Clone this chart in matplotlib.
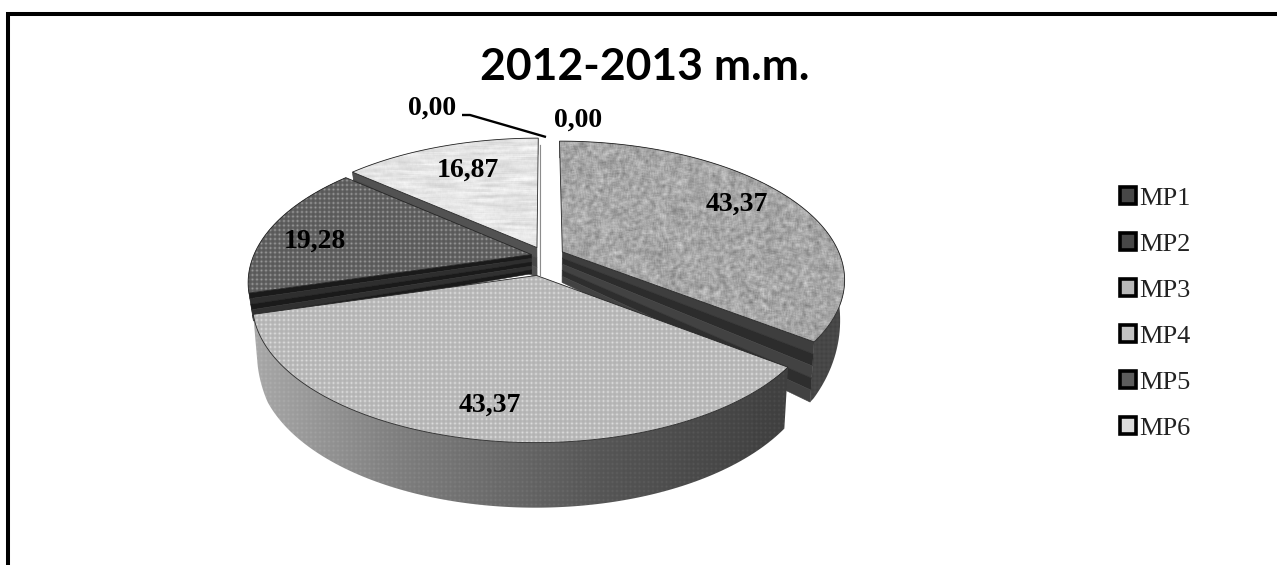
import numpy as np
import matplotlib
matplotlib.use("Agg")
import matplotlib.pyplot as plt
from matplotlib.patches import Patch, Polygon

# Chart content
title = "2012-2013 m.m."
series = ["MP1", "MP2", "MP3", "MP4", "MP5", "MP6"]
values = [0.00, 43.37, 43.37, 19.28, 16.87, 0.00]

W, H = 1277, 565

# Projection of the tilted disc onto the canvas
CX, CY, RX, RY, PERSP = 545.0, 256.0, 278.0, 133.7, 0.194
BASE_SCALE = 0.985
explode = [0.07, 0.07, 0.10, 0.05, 0.07, 0.0]
depth_scale = [1.0, 1.0, 1.0, 0.62, 1.0, 1.0]
label_pos = [(578, 120), (737, 204), (490, 405), (315, 241), (468, 170), (432, 108)]
draw_order = [4, 5, 0, 3, 1, 2]
legend_shades = [0.28, 0.28, 0.72, 0.76, 0.36, 0.86]


def project(u, v, i=None):
    s = 1.0 / (1.0 + PERSP * v)
    x, y = CX + RX * u * s, CY - RY * v * s
    if i == 2:
        # The front slice sits a little narrower and flatter than the others
        x = 520.5 + (x - 523.5) * 0.982
        y = 443.0 - (443.0 - y) * 0.965
    return x, y


def lower(x, y, v, i):
    # Base of the extruded pie: thicker toward the viewer
    t = np.interp(v, [-1.2, -0.55, 0.0, 1.1], [66, 60, 31, 16]) * depth_scale[i]
    return CX + (x - CX) * BASE_SCALE, y + t


def box_blur(a, kx, ky):
    for k, axis in ((kx, 1), (ky, 0)):
        if k > 1:
            a = np.apply_along_axis(lambda r: np.convolve(r, np.ones(k) / k, mode="same"), axis, a)
    return a


yy, xx = np.mgrid[0:H, 0:W].astype(float)


def hash_noise(sx, sy):
    n = np.sin(xx * sx + yy * sy) * 43758.5453
    return n - np.floor(n)


def dots(period):
    return 0.5 + 0.5 * np.cos(2 * np.pi * (xx + yy) / period) * np.cos(2 * np.pi * (xx - yy) / period)


n1 = hash_noise(12.9898, 78.233)
n2 = hash_noise(39.346, 11.135)
granite = box_blur(n1, 4, 4)
granite = 166 + (granite - granite.mean()) * 150
marble = box_blur(n2, 25, 3)
marble = 228 + (marble - marble.mean()) * 190
dot_fine = dots(9.0) ** 3
tex_light = 180 + 40 * dot_fine
tex_dark = 90 + 62 * dot_fine
tex_rim_dark = 66 + 10 * dots(9.0)
rim_ramp = np.interp(xx, [250, 400, 600, 790], [168, 125, 85, 62])
tex_rim_front = rim_ramp + 12 * dot_fine

top_tex = {1: granite, 2: tex_light, 3: tex_dark, 4: marble}
rim_tex = {1: tex_rim_dark, 2: tex_rim_front, 3: tex_rim_dark, 4: np.full_like(xx, 150.0)}
wall_bands = {
    1: [62, 44, 66, 46, 66],
    2: [60, 60],
    3: [26, 46, 26, 48, 26],
    4: [82, 72, 82],
}
# Only the cut faces turned toward the viewer are drawn: (start edge, end edge)
visible_walls = {1: (False, True), 2: (False, False), 3: (True, False), 4: (True, False)}

fig = plt.figure(figsize=(W / 100, H / 100), dpi=100, facecolor="white")
ax = fig.add_axes([0, 0, 1, 1])
z = [2]


def next_z():
    z[0] += 1
    return z[0]


def textured(points, tex, edge=None, lw=0.6):
    poly = Polygon(points, closed=True, fc="none", ec="none", zorder=next_z())
    ax.add_patch(poly)
    im = ax.imshow(np.clip(tex, 0, 255), cmap="gray", vmin=0, vmax=255, extent=(0, W, H, 0),
                   aspect="auto", interpolation="bilinear", zorder=next_z())
    im.set_clip_path(poly)
    if edge is not None:
        ax.add_patch(Polygon(points, closed=True, fc="none", ec=edge, lw=lw, zorder=next_z()))


def draw_wall(au, av, bu, bv, bands, i):
    # Flat cut face running from the exploded apex out to the rim
    ts = np.linspace(0, 1, 2)
    us, vs = au + (bu - au) * ts, av + (bv - av) * ts
    xs, ys = project(us, vs, i)
    xb, yb = lower(xs, ys, vs, i)
    n = len(bands)
    for k, shade in enumerate(bands):
        f0, f1 = k / n, (k + 1) / n
        p = [(xs[0] + (xb[0] - xs[0]) * f0, ys[0] + (yb[0] - ys[0]) * f0),
             (xs[1] + (xb[1] - xs[1]) * f0, ys[1] + (yb[1] - ys[1]) * f0),
             (xs[1] + (xb[1] - xs[1]) * f1, ys[1] + (yb[1] - ys[1]) * f1),
             (xs[0] + (xb[0] - xs[0]) * f1, ys[0] + (yb[0] - ys[0]) * f1)]
        c = str(shade / 255)
        ax.add_patch(Polygon(p, closed=True, fc=c, ec=c, lw=0.4, zorder=next_z()))


# Slice angles run clockwise from twelve o'clock, each in proportion to its value
total = sum(values)
ends = 90.0 - np.cumsum(values) / total * 360.0
starts = np.concatenate(([90.0], ends[:-1]))

for i in draw_order:
    a0, a1 = np.radians(starts[i]), np.radians(ends[i])
    mid = (a0 + a1) / 2
    ou, ov = explode[i] * np.cos(mid), explode[i] * np.sin(mid)
    if values[i] == 0:
        # A zero share collapses to a thin upright white sliver
        top_x, top_y = project(0.0, 1.0)
        sliver = [(CX - 5, top_y + 0.5), (CX + 2, top_y + 0.5), (CX + 2, 275), (CX - 5, 275)]
        ax.add_patch(Polygon(sliver, closed=True, fc="white", ec="none", zorder=next_z()))
        ax.plot([CX - 5, CX - 5], [top_y + 1, 275], color="0.55", lw=0.8, zorder=next_z())
        continue
    th = np.linspace(a0, a1, 160)
    us, vs = ou + np.cos(th), ov + np.sin(th)
    xs, ys = project(us, vs, i)
    xb, yb = lower(xs, ys, vs, i)
    rim = np.r_[np.c_[xs, ys], np.c_[xb, yb][::-1]]
    textured(rim, rim_tex[i])
    if visible_walls[i][0]:
        draw_wall(ou, ov, us[0], vs[0], wall_bands[i], i)
    if visible_walls[i][1]:
        draw_wall(ou, ov, us[-1], vs[-1], wall_bands[i], i)
    ax_, ay_ = project(ou, ov, i)
    top = np.r_[[(ax_, ay_)], np.c_[xs, ys]]
    textured(top, top_tex[i], edge="0.15")

# Value labels
for v, (lx, ly) in zip(values, label_pos):
    ax.text(lx, ly, f"{v:.2f}".replace(".", ","), ha="center", va="center", fontsize=20,
            fontweight="bold", family="Liberation Serif", color="black", zorder=500)

# Leader line for the left-hand zero label
ax.plot([462, 470, 546], [115, 115, 137], color="black", lw=1.7, zorder=501,
        solid_capstyle="butt", solid_joinstyle="miter")

ax.text(644.5, 67, title, ha="center", va="center", fontsize=32, fontweight="bold",
        family="Lato", color="black", zorder=500)

handles = [Patch(facecolor=str(s), edgecolor="black", linewidth=2.6, label=n)
           for s, n in zip(legend_shades, series)]
leg = ax.legend(handles=handles, loc="upper left", bbox_to_anchor=(1120, 187),
                bbox_transform=ax.transData, frameon=False, ncol=1,
                prop={"family": "Liberation Serif", "size": 19}, labelspacing=0.88,
                handlelength=0.62, handleheight=0.62, handletextpad=0.12, borderpad=0, borderaxespad=0)
leg.set_zorder(500)
for t in leg.get_texts():
    t.set_color("#222222")

# Chart frame: only the top and left edges fall inside the canvas
ax.plot([8, 8, W], [H, 14, 14], color="black", lw=2.9, zorder=502, solid_joinstyle="miter")

ax.set_xlim(0, W)
ax.set_ylim(H, 0)
ax.axis("off")
fig.savefig("out.png", dpi=100, facecolor="white")
